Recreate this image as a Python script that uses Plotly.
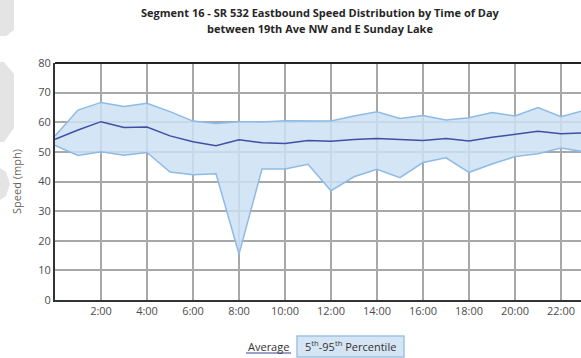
import plotly.graph_objects as go

hours = list(range(0, 24))
avg_speed = [54.2, 57.4, 60.2, 58.2, 58.4, 55.4, 53.4, 52.1, 54.1, 53.1, 52.8, 53.8,
             53.6, 54.2, 54.5, 54.2, 53.8, 54.5, 53.7, 54.9, 56.0, 57.0, 56.1, 56.4]
p95_speed = [55.4, 64.1, 66.7, 65.3, 66.4, 63.6, 60.4, 59.6, 60.2, 60.1, 60.5, 60.4,
             60.4, 62.1, 63.5, 61.3, 62.3, 60.8, 61.5, 63.3, 62.1, 65.0, 61.9, 64.0]
p5_speed = [52.2, 48.8, 50.0, 48.9, 49.8, 43.2, 42.3, 42.6, 15.5, 44.2, 44.2, 45.8,
            36.9, 41.6, 44.1, 41.3, 46.4, 48.0, 43.1, 45.9, 48.4, 49.4, 51.3, 50.0]
tick_hours = [2, 4, 6, 8, 10, 12, 14, 16, 18, 20, 22]
tick_labels = ["2:00", "4:00", "6:00", "8:00", "10:00", "12:00", "14:00", "16:00",
               "18:00", "20:00", "22:00"]
y_ticks = [0, 10, 20, 30, 40, 50, 60, 70, 80]

FONT = "Open Sans"
TXT = "#4d4d4d"
BAND_LINE = "#8dbbe6"
BAND_FILL = "rgba(205,225,243,0.85)"
AVG_LINE = "#3f4fa3"

W, H = 590, 358
L, T, B = 55, 63, 58
R = W - 584
PW, PH = W - L - R, H - T - B


def px(x):
    return (x - L) / PW


def py(y):
    return (H - B - y) / PH


fig = go.Figure()
fig.add_trace(go.Scatter(x=hours, y=p5_speed, mode="lines",
                         line=dict(color=BAND_LINE, width=1.5), hoverinfo="skip",
                         showlegend=False))
fig.add_trace(go.Scatter(x=hours, y=p95_speed, mode="lines", fill="tonexty",
                         fillcolor=BAND_FILL, line=dict(color=BAND_LINE, width=1.5),
                         showlegend=False))
fig.add_trace(go.Scatter(x=hours, y=avg_speed, mode="lines",
                         line=dict(color=AVG_LINE, width=1.5), showlegend=False))

shapes = [
    # top border
    dict(type="line", xref="paper", yref="paper", x0=0, x1=1.02, y0=1, y1=1,
         line=dict(color="#222222", width=2)),
    # legend underline for Average
    dict(type="line", xref="paper", yref="paper", x0=px(246), x1=px(291),
         y0=py(353), y1=py(353), line=dict(color="#7a80b8", width=1.5)),
    # legend box for percentile
    dict(type="rect", xref="paper", yref="paper", x0=px(297), x1=px(404),
         y0=py(357), y1=py(336), fillcolor="#d5e5f4",
         line=dict(color="#9cc3e6", width=1.5)),
    # faint page decorations at left edge
    dict(type="path", xref="paper", yref="paper",
         path=f"M {px(0)},{py(0)} L {px(14)},{py(0)} L {px(14)},{py(30)} L {px(6)},{py(36)} L {px(0)},{py(36)} Z",
         fillcolor="#e4e4e4", line=dict(width=0)),
    dict(type="path", xref="paper", yref="paper",
         path=f"M {px(0)},{py(62)} L {px(4)},{py(62)} L {px(14)},{py(74)} L {px(14)},{py(128)} L {px(4)},{py(142)} L {px(0)},{py(142)} Z",
         fillcolor="#e4e4e4", line=dict(width=0)),
    dict(type="path", xref="paper", yref="paper",
         path=f"M {px(0)},{py(168)} L {px(6)},{py(172)} L {px(10)},{py(184)} L {px(6)},{py(196)} L {px(0)},{py(200)} Z",
         fillcolor="#e4e4e4", line=dict(width=0)),
]

annotations = [
    dict(text="<b>Segment 16 - SR 532 Eastbound Speed Distribution by Time of Day</b>",
         xref="paper", yref="paper", x=px(320), y=py(13), showarrow=False,
         font=dict(family=FONT, size=11, color="#262626"), xanchor="center",
         yanchor="middle"),
    dict(text="<b>between 19th Ave NW and E Sunday Lake</b>",
         xref="paper", yref="paper", x=px(320), y=py(29), showarrow=False,
         font=dict(family=FONT, size=11, color="#262626"), xanchor="center",
         yanchor="middle"),
    dict(text="Average", xref="paper", yref="paper", x=px(268), y=py(346),
         showarrow=False, font=dict(family=FONT, size=11, color="#333333"),
         xanchor="center", yanchor="middle"),
    dict(text="5<sup>th</sup>-95<sup>th</sup> Percentile", xref="paper", yref="paper",
         x=px(350), y=py(346), showarrow=False,
         font=dict(family=FONT, size=11, color="#333333"),
         xanchor="center", yanchor="middle"),
]

fig.update_layout(
    width=W, height=H,
    margin=dict(l=L, r=R, t=T, b=B, pad=0),
    paper_bgcolor="white", plot_bgcolor="white",
    showlegend=False,
    shapes=shapes, annotations=annotations,
    font=dict(family=FONT, size=11, color=TXT),
)
fig.update_xaxes(range=[0, 23], tickvals=tick_hours, ticktext=tick_labels,
                 showgrid=True, gridcolor="#a8a8a8", gridwidth=1.5,
                 showline=True, linecolor="#333333", linewidth=2,
                 ticks="", zeroline=False,
                 tickfont=dict(family=FONT, size=11, color=TXT))
fig.update_yaxes(range=[0, 80], tickvals=y_ticks, showgrid=True,
                 gridcolor="#a8a8a8", gridwidth=1.5,
                 showline=True, linecolor="#333333", linewidth=2,
                 ticks="", zeroline=False,
                 title=dict(text="Speed (mph)", standoff=14,
                            font=dict(family=FONT, size=11, color="#6b5f58")),
                 tickfont=dict(family=FONT, size=11, color=TXT))

fig.write_html("out.html")
